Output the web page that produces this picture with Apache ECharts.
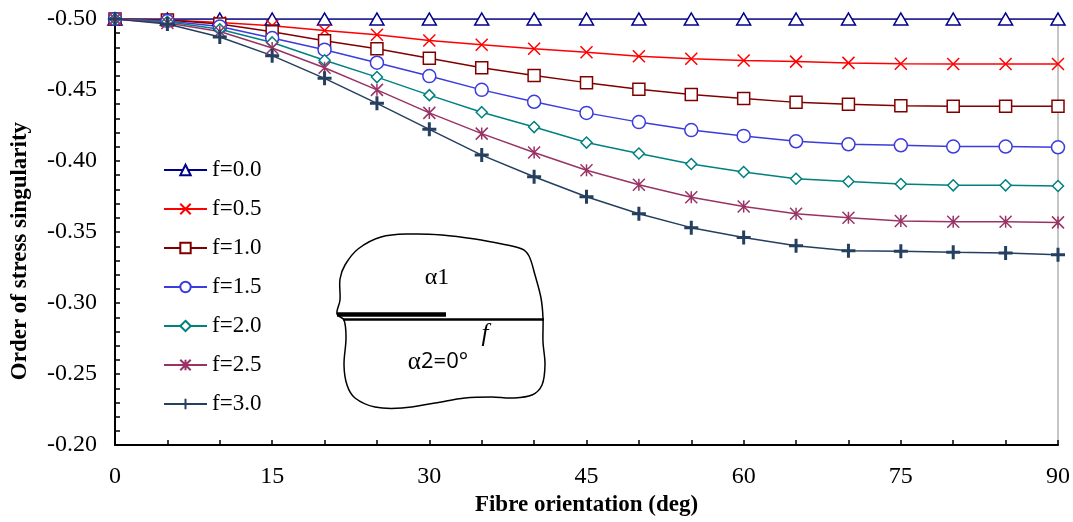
<!DOCTYPE html>
<html>
<head>
<meta charset="utf-8">
<script src="https://cdn.jsdelivr.net/npm/echarts@6/dist/echarts.min.js"></script>
<style>
  html, body { margin: 0; padding: 0; background: #fff; }
  #myChart { width: 1073px; height: 522px; }
</style>
</head>
<body>
<div id="myChart"></div>
<script>
// fibre orientation (deg)
var angles = [0, 5, 10, 15, 20, 25, 30, 35, 40, 45, 50, 55, 60, 65, 70, 75, 80, 85, 90]
// order of stress singularity for each f
var f00 = [-0.5, -0.5, -0.5, -0.5, -0.5, -0.5, -0.5, -0.5, -0.5, -0.5, -0.5, -0.5, -0.5, -0.5, -0.5, -0.5, -0.5, -0.5, -0.5]
var f05 = [-0.5, -0.4993, -0.4975, -0.4952, -0.4919, -0.4889, -0.4849, -0.4819, -0.4791, -0.4766, -0.4738, -0.472, -0.4708, -0.470, -0.4691, -0.4685, -0.4683, -0.4683, -0.4683]
var f10 = [-0.5, -0.4993, -0.4965, -0.491, -0.4847, -0.479, -0.4724, -0.4657, -0.4603, -0.4552, -0.4506, -0.4469, -0.4441, -0.4413, -0.4399, -0.439, -0.4385, -0.4385, -0.4385]
var f15 = [-0.5, -0.4986, -0.4947, -0.4866, -0.4784, -0.4692, -0.4598, -0.4501, -0.4417, -0.4339, -0.4274, -0.4218, -0.4177, -0.4139, -0.4118, -0.4111, -0.4102, -0.4102, -0.4097]
var f20 = [-0.5, -0.498, -0.4928, -0.4835, -0.471, -0.4591, -0.4464, -0.4344, -0.4239, -0.413, -0.4053, -0.3979, -0.3923, -0.3875, -0.3856, -0.3838, -0.3829, -0.3829, -0.3824]
var f25 = [-0.5, -0.4972, -0.4912, -0.4796, -0.4657, -0.4501, -0.4339, -0.4193, -0.406, -0.3935, -0.3833, -0.3745, -0.368, -0.3629, -0.3601, -0.3578, -0.3573, -0.3573, -0.3568]
var f30 = [-0.5, -0.4965, -0.4873, -0.4742, -0.4582, -0.4406, -0.4223, -0.4042, -0.3889, -0.3749, -0.3629, -0.3531, -0.3462, -0.3404, -0.3369, -0.3364, -0.3357, -0.3352, -0.3341]
var seriesNames = ['f=0.0', 'f=0.5', 'f=1.0', 'f=1.5', 'f=2.0', 'f=2.5', 'f=3.0']

var serif = '"Liberation Serif", "Times New Roman", serif'

function pairs (ys) {
  return ys.map(function (y, i) { return [angles[i], y] })
}

function makeSeries (name, ys, color, symbol, size, bw) {
  return {
    name: name,
    type: 'line',
    data: pairs(ys),
    symbol: symbol,
    symbolSize: size,
    showAllSymbol: true,
    lineStyle: { color: color, width: 1.5 },
    itemStyle: { color: '#fff', borderColor: color, borderWidth: bw || 1.5 },
    emphasis: { disabled: true }
  }
}

var myChart = echarts.init(document.getElementById('myChart'))
var option = {
  animation: false,
  grid: {
    left: 115,
    right: 15,
    top: 19,
    bottom: 72,
    show: true,
    borderColor: '#8c8c8c',
    borderWidth: 1
  },
  legend: {
    orient: 'vertical',
    left: 158,
    top: 153,
    itemWidth: 43,
    itemHeight: 13,
    itemGap: 15,
    textStyle: { fontFamily: serif, fontSize: 23, color: '#000', lineHeight: 24 },
    data: seriesNames
  },
  xAxis: {
    type: 'value',
    min: 0,
    max: 90,
    interval: 15,
    name: 'Fibre orientation (deg)',
    nameLocation: 'middle',
    nameGap: 48,
    nameTextStyle: { fontFamily: serif, fontSize: 23, fontWeight: 'bold', color: '#000' },
    axisLine: { lineStyle: { color: '#000', width: 2 } },
    axisTick: { inside: true, length: 5, lineStyle: { color: '#000', width: 1.5 } },
    minorTick: { show: true, splitNumber: 3, length: 5, lineStyle: { color: '#000', width: 1.5 } },
    axisLabel: { fontFamily: serif, fontSize: 24, color: '#000', margin: 20 },
    splitLine: { show: false }
  },
  yAxis: {
    type: 'value',
    inverse: true,
    min: -0.5,
    max: -0.2,
    interval: 0.05,
    name: 'Order of stress singularity',
    nameLocation: 'middle',
    nameGap: 83,
    nameTextStyle: { fontFamily: serif, fontSize: 23, fontWeight: 'bold', color: '#000', padding: [0, 38, 0, 0] },
    axisLine: { lineStyle: { color: '#000', width: 2 } },
    axisTick: { inside: true, length: 5, lineStyle: { color: '#000', width: 1.5 } },
    minorTick: { show: true, splitNumber: 5, length: 5, lineStyle: { color: '#000', width: 1.5 } },
    axisLabel: {
      fontFamily: serif, fontSize: 24, color: '#000', margin: 18,
      formatter: function (v) { return v.toFixed(2) }
    },
    splitLine: { show: false }
  },
  series: [
    makeSeries(seriesNames[0], f00, '#00008b', 'triangle', [14, 12]),
    makeSeries(seriesNames[1], f05, '#ff0000', 'path://M0,0L10,10M10,0L0,10', 12),
    makeSeries(seriesNames[2], f10, '#800000', 'rect', 12),
    makeSeries(seriesNames[3], f15, '#3c3cdc', 'circle', 13),
    makeSeries(seriesNames[4], f20, '#008080', 'diamond', 11),
    makeSeries(seriesNames[5], f25, '#993366', 'path://M0,0L10,10M10,0L0,10M5,0L5,10', 12),
    makeSeries(seriesNames[6], f30, '#243f60', 'path://M5,0L5,10M0,5L10,5', 14, 3)
  ],
  graphic: [
    {
      // inset sketch of the bi-material crack
      type: 'polygon',
      shape: {
        smooth: 0.35,
        points: [[337, 314], [340, 300], [340, 279], [345, 265], [358, 249], [381, 237], [411, 234],
          [442, 235], [475, 239], [502, 244], [522, 249], [529, 256], [535, 275], [541, 298],
          [543, 318], [543, 342], [545, 365], [542, 385], [532, 395], [512, 398], [492, 397],
          [465, 398], [435, 403], [402, 408], [375, 407], [355, 398], [347, 385], [344, 365],
          [346, 338], [344, 320]]
      },
      style: { fill: 'none', stroke: '#000', lineWidth: 1.5 },
      z: 10
    },
    {
      type: 'line',
      shape: { x1: 337, y1: 314.5, x2: 446, y2: 314.5 },
      style: { stroke: '#000', lineWidth: 4.5 },
      z: 11
    },
    {
      type: 'line',
      shape: { x1: 343, y1: 319.5, x2: 544, y2: 319.5 },
      style: { stroke: '#000', lineWidth: 2.6 },
      z: 11
    },
    {
      type: 'text',
      x: 437, y: 278,
      style: { text: 'α1', fontFamily: serif, fontSize: 24, fill: '#000', align: 'center', verticalAlign: 'middle' },
      z: 11
    },
    {
      type: 'text',
      x: 485, y: 334,
      style: { text: 'f', fontFamily: serif, fontStyle: 'italic', fontSize: 25, fill: '#000', align: 'center', verticalAlign: 'middle' },
      z: 11
    },
    {
      type: 'text',
      x: 438, y: 362,
      style: {
        text: '{a|α}{b|2=0°}',
        align: 'center',
        verticalAlign: 'middle',
        rich: {
          a: { fontFamily: serif, fontSize: 25, color: '#000' },
          b: { fontFamily: '"Open Sans", sans-serif', fontSize: 22, color: '#000' }
        }
      },
      z: 11
    }
  ]
}
myChart.setOption(option)
</script>
</body>
</html>
